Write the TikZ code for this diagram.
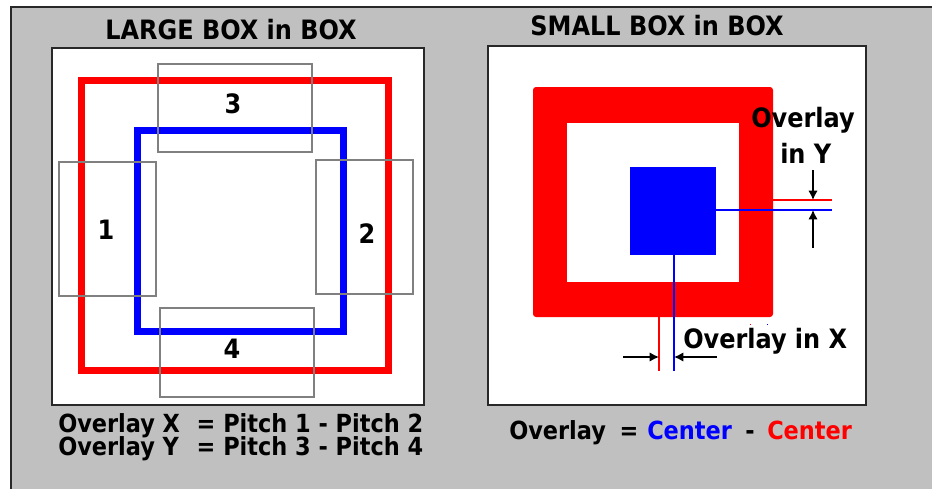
\documentclass[tikz,border=0pt]{standalone}
\usepackage{fontspec}
\setmainfont{DejaVu Sans}
\newfontfamily\pixfont{DejaVuSansCondensed-Bold.ttf}
\usetikzlibrary{arrows.meta}
\definecolor{panelgray}{RGB}{192,192,192}
\definecolor{pitchgray}{RGB}{128,128,128}
\definecolor{framedark}{RGB}{40,40,40}
\tikzset{
  txt/.style={inner sep=0pt,font=\pixfont\fontsize{20}{24}\selectfont},
  smalltxt/.style={inner sep=0pt,font=\pixfont\fontsize{18.7}{22}\selectfont},
  panel/.style={fill=white,draw=framedark,line width=1.2pt},
  redframe/.style={draw=red,line width=5.25pt},
  blueframe/.style={draw=blue,line width=5.25pt},
  pitchbox/.style={draw=pitchgray,line width=1pt},
  centerline/.style={line width=1.1pt},
  dimline/.style={black,line width=1pt,-{Latex[length=7pt,width=7pt]}}
}
\begin{document}
\begin{tikzpicture}[x=0.75pt,y=-0.75pt]
\useasboundingbox (0,0) rectangle (932,489);
\fill[panelgray] (11,7) rectangle (932,489);
\draw[framedark,line width=1.2pt] (932,7) -- (11,7) -- (11,489);

\draw[panel] (52,48) rectangle (424,405);
\draw[redframe] (81,80) rectangle (388,370);
\draw[blueframe] (137,130) rectangle (343,331);
\draw[pitchbox] (158,64) rectangle (312,152);
\draw[pitchbox] (59,162) rectangle (156,296);
\draw[pitchbox] (316,160) rectangle (413,294);
\draw[pitchbox] (160,308) rectangle (314,397);
\node[txt,anchor=base] (titleL) at (231,39) {LARGE BOX in BOX};
\node[txt,anchor=base] (pitch3) at (233,113) {3};
\node[txt,anchor=base] (pitch1) at (106,239) {1};
\node[txt,anchor=base] (pitch2) at (367,243) {2};
\node[txt,anchor=base] (pitch4) at (232,358) {4};
\node[smalltxt,anchor=base west] (ovX) at (58,432) {Overlay X};
\node[smalltxt,anchor=base] (eqX) at (206,432) {=};
\node[smalltxt,anchor=base west] (rhsX) at (223,432) {Pitch 1 - Pitch 2};
\node[smalltxt,anchor=base west] (ovY) at (58,455) {Overlay Y};
\node[smalltxt,anchor=base] (eqY) at (206,455) {=};
\node[smalltxt,anchor=base west] (rhsY) at (223,455) {Pitch 3 - Pitch 4};

\draw[panel] (488,46) rectangle (866,405);
\fill[red,rounded corners=2.25pt] (533,87) rectangle (773,317);
\fill[white] (567,123) rectangle (739,282);
\fill[blue] (630,167) rectangle (716,255);
\coordinate (redR) at (773,200);
\coordinate (redYend) at (832,200);
\coordinate (blueR) at (716,210);
\coordinate (blueYend) at (832,210);
\coordinate (redB) at (659,317);
\coordinate (redXend) at (659,371);
\coordinate (blueB) at (674,255);
\coordinate (blueXend) at (674,371);
\draw[centerline,red] (redR) -- (redYend);
\draw[centerline,blue] (blueR) -- (blueYend);
\draw[centerline,red] (redB) -- (redXend);
\draw[centerline,blue] (blueB) -- (blueXend);
\coordinate (dimYtop) at (813,170);
\coordinate (dimYbot) at (813,248);
\coordinate (dimXleft) at (623,357);
\coordinate (dimXright) at (717,357);
\draw[dimline] (dimYtop) -- (813,200);
\draw[dimline] (dimYbot) -- (813,210);
\draw[dimline] (dimXleft) -- (659,357);
\draw[dimline] (dimXright) -- (674,357);
\fill[red] (749.5,323.5) rectangle (751,325);
\fill[blue] (766.5,323.5) rectangle (768,325);
\node[txt,anchor=base] (titleR) at (657,36) {SMALL BOX in BOX};
\node[txt,anchor=base west] (ovInY) at (751,127) {Overlay};
\node[txt,anchor=base west] (inY) at (780,163) {in Y};
\node[txt,anchor=base west] (ovInX) at (683,348) {Overlay in X};
\node[smalltxt,anchor=base west] (ovR) at (509,439) {Overlay};
\node[smalltxt,anchor=base] (eqR) at (629,439) {=};
\node[smalltxt,anchor=base west,text=blue] (centerB) at (647,439) {Center};
\node[smalltxt,anchor=base] (minusR) at (750,439) {-};
\node[smalltxt,anchor=base west,text=red] (centerR) at (767,439) {Center};
\end{tikzpicture}
\end{document}
